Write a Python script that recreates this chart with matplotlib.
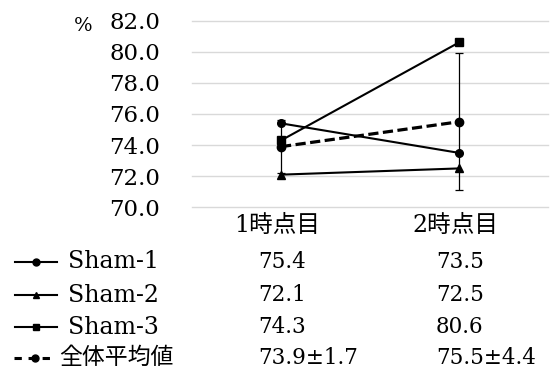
import matplotlib
matplotlib.use("Agg")
import matplotlib.pyplot as plt
from matplotlib import transforms
from matplotlib.lines import Line2D

plt.rcParams['font.family'] = ['DejaVu Serif', 'Noto Sans CJK JP']

# 測定値
time_points = ['1時点目', '2時点目']
sham1 = [75.4, 73.5]
sham2 = [72.1, 72.5]
sham3 = [74.3, 80.6]
mean_vals = [73.9, 75.5]
sd_vals = [1.7, 4.4]
row_names = ['Sham-1', 'Sham-2', 'Sham-3', '全体平均値']
y_ticks = [70, 72, 74, 76, 78, 80, 82]

W, H = 552, 374
fig = plt.figure(figsize=(W / 100, H / 100), dpi=100)

# グラフ本体
left, right, top, bottom = 192, 548, 20.7, 207.3
ax = fig.add_axes([left / W, 1 - bottom / H, (right - left) / W, (bottom - top) / H])
x = list(range(len(time_points)))

ax.plot(x, sham1, color='black', lw=1.5, marker='o', ms=5.5)
ax.plot(x, sham2, color='black', lw=1.5, marker='^', ms=6)
ax.plot(x, sham3, color='black', lw=1.5, marker='s', ms=5.5)
ax.errorbar(x, mean_vals, yerr=sd_vals, fmt='none', ecolor='black',
            elinewidth=0.9, capsize=3, capthick=0.9)
ax.plot(x, mean_vals, color='black', lw=2.3, ls=(0, (3.2, 1.4)),
        marker='o', ms=6)

ax.set_xlim(-0.5, 1.5)
ax.set_ylim(70, 82)
ax.set_yticks(y_ticks)
ax.set_yticklabels([f'{v:.1f}' for v in y_ticks], fontsize=16.5)
ax.set_xticks([])
ax.tick_params(axis='y', length=0, pad=23)
ax.grid(axis='y', color='#d9d9d9', lw=1, clip_on=False)
ax.set_axisbelow(True)
for s in ax.spines.values():
    s.set_visible(False)

fig.text(74 / W, 1 - 26 / H, '%', fontsize=14, va='center', ha='left')

# データテーブル
row_y = [262, 295, 327, 358]
header_y = 226
tr = transforms.blended_transform_factory(ax.transData, fig.transFigure)
for i, name in enumerate(time_points):
    ax.text(i - 0.02, 1 - header_y / H, name, transform=tr, fontsize=17,
            ha='center', va='center')

cols = [sham1, sham2, sham3]
for r, vals in enumerate(cols):
    for i, v in enumerate(vals):
        ax.text(i - 0.13, 1 - row_y[r] / H, f'{v:.1f}', transform=tr,
                fontsize=15.5, ha='left', va='center')
for i, (m, s) in enumerate(zip(mean_vals, sd_vals)):
    ax.text(i - 0.13, 1 - row_y[3] / H, f'{m:.1f}±{s:.1f}', transform=tr,
            fontsize=15.5, ha='left', va='center')

# 凡例キー
key = fig.add_axes([0, 0, 1, 1])
key.set_xlim(0, W)
key.set_ylim(H, 0)
key.axis('off')
markers = ['o', '^', 's', 'o']
for r, (name, mk) in enumerate(zip(row_names, markers)):
    yy = row_y[r]
    if r < 3:
        key.add_line(Line2D([15, 57], [yy, yy], color='black', lw=1.5))
        key.plot([36], [yy], color='black', marker=mk, ms=5)
        key.text(68, yy, name, fontsize=17, ha='left', va='center')
    else:
        key.add_line(Line2D([14, 56], [yy, yy], color='black', lw=2.2,
                            ls=(0, (2.4, 2.2))))
        key.plot([35], [yy], color='black', marker=mk, ms=5)
        key.text(59, yy, name, fontsize=16.5, ha='left', va='center')

fig.savefig('out.png', dpi=100)
